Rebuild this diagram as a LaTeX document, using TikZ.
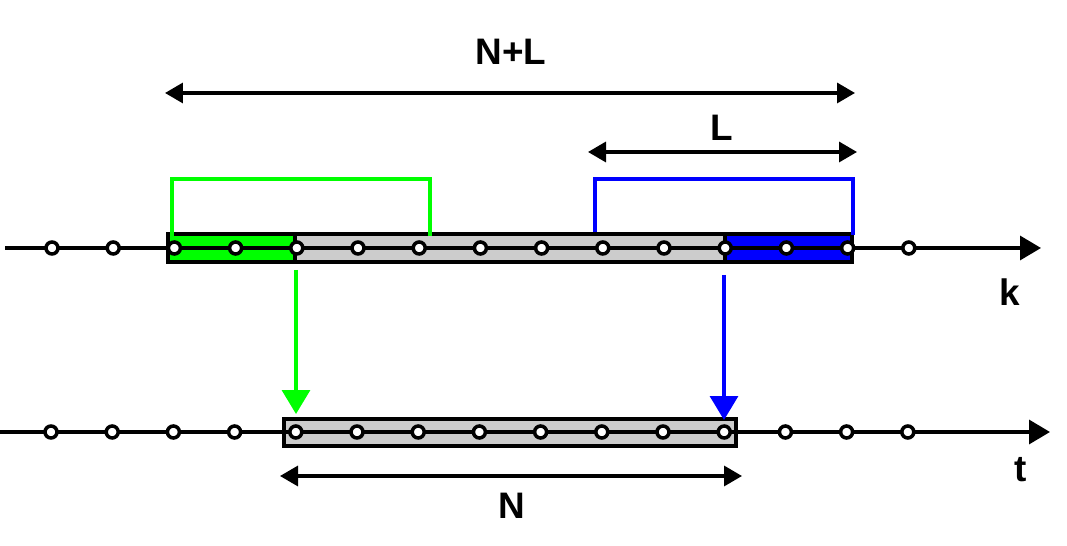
\documentclass[tikz,border=0pt]{standalone}
\usepackage{fontspec}
\setmainfont{Liberation Sans}
\usetikzlibrary{arrows.meta}
\begin{document}
\begin{tikzpicture}[x={(0.02cm,0cm)},y={(0cm,-0.02cm)},line width=1.9pt,font=\fontsize{21}{25}\selectfont\bfseries,
	dot/.style={circle,draw=black,fill=white,line width=2pt,inner sep=0pt,minimum size=0.24cm},
	bar/.style={draw=black,line width=1.8pt},
	dim/.style={{Triangle[length=0.36cm,width=0.4cm]}-{Triangle[length=0.36cm,width=0.4cm]},black},
	axis/.style={-{Triangle[length=0.42cm,width=0.48cm]},black},
	moveto/.style={-{Triangle[length=0.48cm,width=0.56cm]}}]
			\useasboundingbox (0,0) rectangle (1067,546);
			\coordinate (kL) at (5,248);
			\coordinate (kR) at (1041,248);
			\coordinate (tL) at (0,432);
			\coordinate (tR) at (1050,432);
			\fill[gray!40,bar] (295,234) rectangle (725,262);
			\fill[green,bar] (168,234) rectangle (295,262);
			\fill[blue,bar] (725,234) rectangle (852,262);
			\fill[gray!40,bar] (284,419) rectangle (736,446);
			\draw[axis] (kL) -- (kR);
			\draw[axis] (tL) -- (tR);
			\foreach \i in {0,...,14} \node[dot] (k\i) at (52+61.2*\i,248) {};
			\foreach \i in {0,...,14} \node[dot] (t\i) at (51+61.2*\i,432) {};
			\node (k) at (1010,292) {k};
			\node (t) at (1021,470) {t};
			\draw[green,line join=miter] (172,236) -- (172,179) -- (430,179) -- (430,236);
			\draw[blue,line join=miter] (595,232) -- (595,179) -- (853,179) -- (853,235);
			\coordinate (gA) at (296,270);
			\coordinate (gB) at (296,414);
			\coordinate (bA) at (724,275);
			\coordinate (bB) at (724,420);
			\draw[moveto,green] (gA) -- (gB);
			\draw[moveto,blue] (bA) -- (bB);
			\coordinate (NLa) at (165,93);
			\coordinate (NLb) at (855,93);
			\draw[dim] (NLa) -- (NLb);
			\node (NL) at (511,52) {N+L};
			\coordinate (La) at (588,152);
			\coordinate (Lb) at (857,152);
			\draw[dim] (La) -- (Lb);
			\node (L) at (722,128) {L};
			\coordinate (Na) at (280,476);
			\coordinate (Nb) at (742,476);
			\draw[dim] (Na) -- (Nb);
			\node (N) at (512,506) {N};
		\end{tikzpicture}
\end{document}
